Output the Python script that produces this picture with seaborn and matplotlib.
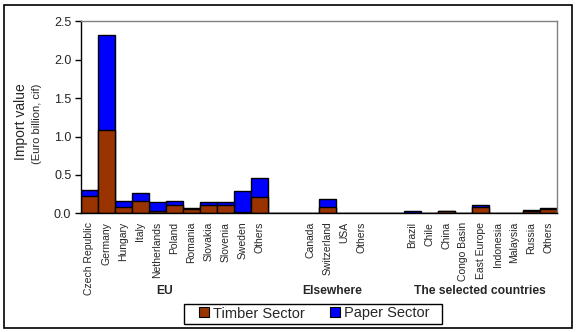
import matplotlib
matplotlib.use("Agg")
import matplotlib.pyplot as plt
from matplotlib.patches import Rectangle
from matplotlib.lines import Line2D
from matplotlib.ticker import FixedLocator
import numpy as np
import pandas as pd
import seaborn as sns

# Countries per region (empty strings are spacer slots between regions)
eu = ["Czech Republic", "Germany", "Hungary", "Italy", "Netherlands", "Poland",
      "Romania", "Slovakia", "Slovenia", "Sweden", "Others"]
elsewhere = ["Canada", "Switzerland", "USA", "Others"]
selected = ["Brazil", "Chile", "China", "Congo Basin", "East Europe",
            "Indonesia", "Malaysia", "Russia", "Others"]

# Import values, Euro billion (cif)
timber_eu = [0.23, 1.09, 0.08, 0.155, 0.026, 0.104, 0.052, 0.104, 0.104, 0.013, 0.208]
paper_eu = [0.07, 1.23, 0.075, 0.115, 0.117, 0.052, 0.013, 0.039, 0.039, 0.273, 0.248]
timber_else = [0.0, 0.078, 0.006, 0.0]
paper_else = [0.0, 0.104, 0.004, 0.0]
timber_sel = [0.004, 0.008, 0.03, 0.0, 0.087, 0.008, 0.0, 0.03, 0.052]
paper_sel = [0.026, 0.002, 0.0, 0.0, 0.017, 0.002, 0.0, 0.01, 0.013]

group_names = ["EU", "Elsewhere", "The selected countries"]

labels = eu + ["", ""] + elsewhere + ["", ""] + selected
timber = timber_eu + [0, 0] + timber_else + [0, 0] + timber_sel
paper = paper_eu + [0, 0] + paper_else + [0, 0] + paper_sel
slots = [f"s{i:02d}" for i in range(len(labels))]

df = pd.DataFrame({"slot": slots, "label": labels,
                   "timber": timber, "paper": paper})
df["total"] = df["timber"] + df["paper"]

TIMBER = "#993300"
PAPER = "#0000FF"

sns.set_style("white")
plt.rcParams["font.family"] = ["Liberation Sans", "DejaVu Sans"]

W, H = 577, 332
fig = plt.figure(figsize=(W / 100, H / 100), dpi=100)
ax = fig.add_axes([81 / W, 1 - 213.3 / H, (557 - 81) / W, (213.3 - 21.3) / H])

# Stacked bars: total (paper on top) first, then timber over it
sns.barplot(data=df, x="slot", y="total", color=PAPER, width=1.0,
            edgecolor="black", linewidth=1.0, saturation=1, ax=ax, errorbar=None)
sns.barplot(data=df, x="slot", y="timber", color=TIMBER, width=1.0,
            edgecolor="black", linewidth=1.0, saturation=1, ax=ax, errorbar=None)

n = len(labels)
ax.set_xlim(-0.5, n - 0.5)
ax.set_ylim(0, 2.5)
yt = np.arange(0, 2.51, 0.5)
ax.set_yticks(yt)
ax.set_yticklabels([f"{v:.1f}" for v in yt], fontsize=9)
ax.set_xticks(range(n))
ax.set_xticklabels(labels, rotation=90, fontsize=7.5)
ax.xaxis.set_minor_locator(FixedLocator(np.arange(-0.5, n, 1.0)))
ax.tick_params(axis="x", which="major", length=0, pad=6)
ax.tick_params(axis="x", which="minor", length=4, width=1, color="black", direction="out")
ax.tick_params(axis="y", length=4, width=1, color="black", direction="out", pad=3, left=True)
ax.set_xlabel("")
ax.set_ylabel("")

for side in ("left", "bottom"):
    ax.spines[side].set_color("black")
    ax.spines[side].set_linewidth(1)
for side in ("top", "right"):
    ax.spines[side].set_visible(True)
    ax.spines[side].set_color("#808080")
    ax.spines[side].set_linewidth(1)

# Axis titles
fig.text(21 / W, 1 - 122 / H, "Import value", rotation=90, fontsize=10,
         ha="center", va="center")
fig.text(37 / W, 1 - 124 / H, "(Euro billion, cif)", rotation=90, fontsize=8,
         ha="center", va="center")

# Region labels
for name, x in zip(group_names, [165, 332, 480]):
    fig.text(x / W, 1 - 291 / H, name, fontsize=8.7, fontweight="bold",
             ha="center", va="center")

# Legend with a plain rectangular frame
handles = [Line2D([], [], marker="s", linestyle="", markersize=6.5,
                  markerfacecolor=c, markeredgecolor="black", markeredgewidth=0.8)
           for c in (TIMBER, PAPER)]
leg = fig.legend(handles, ["Timber Sector", "Paper Sector"], ncol=2,
                 loc="center", bbox_to_anchor=(314 / W, 1 - 313.5 / H),
                 fontsize=10.5, frameon=False, handletextpad=0.3,
                 columnspacing=1.7, handlelength=0.7, borderpad=0.2)
fig.patches.append(Rectangle((184 / W, 1 - 323.5 / H), (442 - 184) / W, 20 / H,
                             transform=fig.transFigure, fill=False,
                             edgecolor="black", linewidth=1))

# Outer chart border
fig.patches.append(Rectangle((4 / W, 1 - 328 / H), (572 - 4) / W, (328 - 4.5) / H,
                             transform=fig.transFigure, fill=False,
                             edgecolor="black", linewidth=1.2))

fig.savefig("out.png", dpi=100)
